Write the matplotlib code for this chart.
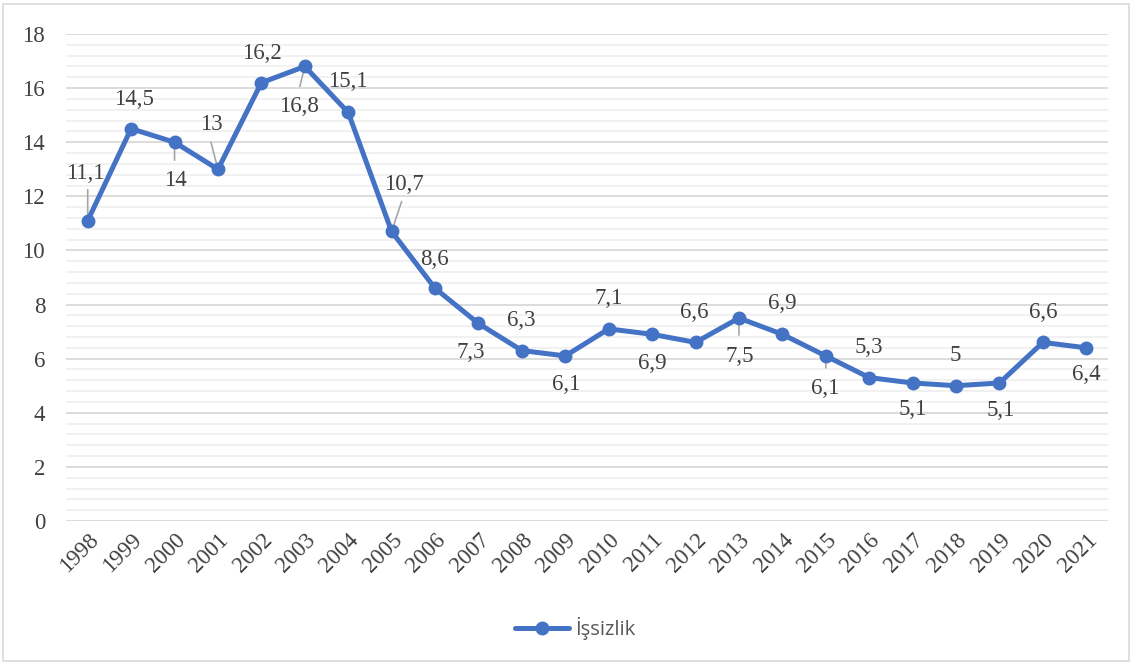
import matplotlib.pyplot as plt
from matplotlib.patches import Rectangle
from matplotlib.ticker import MultipleLocator

years = [str(y) for y in range(1998, 2022)]
issizlik = [11.1, 14.5, 14, 13, 16.2, 16.8, 15.1, 10.7, 8.6, 7.3, 6.3, 6.1,
            7.1, 6.9, 6.6, 7.5, 6.9, 6.1, 5.3, 5.1, 5, 5.1, 6.6, 6.4]
labels = ['11,1', '14,5', '14', '13', '16,2', '16,8', '15,1', '10,7', '8,6', '7,3', '6,3', '6,1',
          '7,1', '6,9', '6,6', '7,5', '6,9', '6,1', '5,3', '5,1', '5', '5,1', '6,6', '6,4']

# label offsets in pixels (dx, dy, down = positive)
offsets = [(-2, -47), (3, -29), (1, 38), (-7, -45), (1, -29), (-6, 40), (0, -31), (12, -47),
           (-1, -29), (-8, 29), (-1, -30), (1, 29), (0, -30), (0, 29), (-1, -30), (1, 38),
           (0, -31), (-1, 33), (0, -30), (0, 27), (-1, -30), (1, 28), (0, -30), (0, 27)]
# leader line end points in pixels from the marker
leaders = {0: (0, -31), 2: (0, 18), 3: (-7, -27), 5: (-5, 20), 7: (10, -30),
           15: (0, 17), 17: (0, 12)}

blue = '#4472C4'
txt = '#404040'

fig = plt.figure(figsize=(11.32, 6.64), dpi=100)
ax = fig.add_axes([0.0583, 0.2154, 0.9205, 0.7334])

x = list(range(len(years)))
ax.plot(x, issizlik, color=blue, lw=3.6, marker='o', ms=9, label='İşsizlik',
        solid_capstyle='round', zorder=3)

px = 72 / 100
for i, (v, lab) in enumerate(zip(issizlik, labels)):
    dx, dy = offsets[i]
    ax.annotate(lab, (i, v), xytext=(dx * px, -dy * px), textcoords='offset points',
                ha='center', va='center', fontsize=16.5, family='Liberation Serif',
                color=txt, zorder=4)
    if i in leaders:
        sx, sy = leaders[i]
        ax.annotate('', (i, v), xytext=(sx * px, -sy * px), textcoords='offset points',
                    arrowprops=dict(arrowstyle='-', color='#a6a6a6', lw=1.2,
                                    shrinkA=0, shrinkB=0), zorder=2)

ax.set_xlim(-0.5, len(years) - 0.5)
ax.set_ylim(0, 18)
ax.yaxis.set_major_locator(MultipleLocator(2))
ax.yaxis.set_minor_locator(MultipleLocator(0.4))
ax.grid(which='major', axis='y', color='#d9d9d9', lw=1.3)
ax.grid(which='minor', axis='y', color='#f0f0f0', lw=1.3)
ax.set_axisbelow(True)
for s in ax.spines.values():
    s.set_visible(False)
ax.tick_params(which='both', length=0)
ax.tick_params(axis='y', pad=15)
ax.tick_params(axis='x', pad=6)
ax.set_xticks(x)
ax.set_xticklabels(years, rotation=45, ha='right', rotation_mode='anchor')
for t in ax.get_xticklabels() + ax.get_yticklabels():
    t.set_family('Liberation Serif')
    t.set_fontsize(16.5)
    t.set_color(txt)

fig.legend(loc='center', bbox_to_anchor=(0.508, 0.054), frameon=False,
           prop={'family': 'Open Sans', 'size': 14.5}, handlelength=2.7,
           handletextpad=0.3, labelcolor='#595959')

fig.add_artist(Rectangle((0.003, 0.004), 0.994, 0.99, transform=fig.transFigure,
                         fill=False, edgecolor='#d9d9d9', lw=1.2))

fig.savefig('out.png', dpi=100)
